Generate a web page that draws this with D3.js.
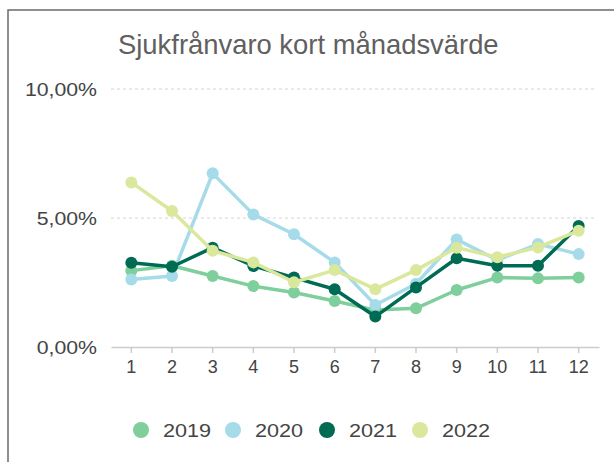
<!DOCTYPE html>
<html>
<head>
<meta charset="utf-8">
<script src="https://cdn.jsdelivr.net/npm/d3@7"></script>
<style>
  body { margin: 0; background: #fff; }
  svg { display: block; font-family: "Liberation Sans", Arial, sans-serif; }
</style>
</head>
<body>
<div id="chart"></div>
<script>
// Sjukfrånvaro per månad, ett värde per år (procent)
var months = ["1", "2", "3", "4", "5", "6", "7", "8", "9", "10", "11", "12"];
var years = ["2019", "2020", "2021", "2022"];
var colors = ["#7ecf9c", "#a6dbe9", "#006b53", "#d9e89c"];
var yTicks = [0, 5, 10];

var v2019 = [2.96, 3.15, 2.75, 2.36, 2.11, 1.78, 1.43, 1.50, 2.21, 2.69, 2.66, 2.69];
var v2020 = [2.62, 2.75, 6.73, 5.14, 4.37, 3.28, 1.63, 2.45, 4.17, 3.37, 3.99, 3.60];
var v2021 = [3.27, 3.11, 3.85, 3.14, 2.69, 2.24, 1.18, 2.31, 3.44, 3.15, 3.15, 4.69];
var v2022 = [6.38, 5.27, 3.73, 3.28, 2.51, 2.98, 2.24, 2.98, 3.85, 3.48, 3.86, 4.51];
var series = [v2019, v2020, v2021, v2022];

var width = 614, height = 462;
var svg = d3.select("#chart").append("svg")
  .attr("width", width)
  .attr("height", height);

// ram (bara vänster och topp syns)
svg.append("path")
  .attr("d", "M8,470 V10 H620")
  .attr("fill", "none")
  .attr("stroke", "#6a6a6a")
  .attr("stroke-width", 1.5);

// text lite utdragen i sidled, som i originalet
function label(x, y, txt, size, anchor, sx) {
  var g = svg.append("g").attr("transform", "translate(" + x + "," + y + ") scale(" + sx + ",1)");
  g.append("text")
    .attr("text-anchor", anchor)
    .attr("font-size", size)
    .attr("fill", "#444")
    .text(txt);
  return g;
}

label(118, 54, "Sjukfrånvaro kort månadsvärde", 27.4, "start", 1).select("text").attr("fill", "#606060");

var x = d3.scaleBand().domain(months).range([111, 599]);
var y = d3.scaleLinear().domain([0, 10]).range([347, 89]);

function fmt(d) {
  return d.toFixed(2).replace(".", ",") + "%";
}

// gridlinjer
svg.selectAll(".grid")
  .data(yTicks.filter(function(d) { return d > 0; }))
  .enter().append("line")
  .attr("x1", 111).attr("x2", 597)
  .attr("y1", function(d) { return y(d); })
  .attr("y2", function(d) { return y(d); })
  .attr("stroke", "#d4d4d4")
  .attr("stroke-dasharray", "3,3");

yTicks.forEach(function(d) {
  label(97, y(d) + 7, fmt(d), 18.5, "end", 1.15);
});

// x-axel
var xAxis = svg.append("g")
  .attr("transform", "translate(0,347)")
  .call(d3.axisBottom(x).tickSize(6).tickSizeOuter(0).tickPadding(7));
xAxis.select(".domain").attr("stroke", "#ccc").attr("stroke-width", 1.5);
xAxis.selectAll(".tick line").attr("stroke", "#ccc").attr("stroke-width", 1.5);
xAxis.selectAll(".tick text")
  .attr("font-size", 18)
  .attr("fill", "#444")
  .attr("font-family", "'Liberation Sans', Arial, sans-serif");

var line = d3.line()
  .x(function(d, i) { return x(months[i]) + x.bandwidth() / 2; })
  .y(function(d) { return y(d); });

series.forEach(function(vals, k) {
  var g = svg.append("g");
  g.append("path")
    .datum(vals)
    .attr("d", line)
    .attr("fill", "none")
    .attr("stroke", colors[k])
    .attr("stroke-width", 3.5)
    .attr("stroke-linejoin", "round");
  g.selectAll("circle")
    .data(vals)
    .enter().append("circle")
    .attr("cx", function(d, i) { return x(months[i]) + x.bandwidth() / 2; })
    .attr("cy", function(d) { return y(d); })
    .attr("r", 6)
    .attr("fill", colors[k]);
});

// legend
var legX = [141, 233, 327, 420];
years.forEach(function(yr, i) {
  svg.append("circle")
    .attr("cx", legX[i])
    .attr("cy", 430)
    .attr("r", 8)
    .attr("fill", colors[i]);
  label(legX[i] + 22, 437, yr, 18.5, "start", 1.17);
});
</script>
</body>
</html>
